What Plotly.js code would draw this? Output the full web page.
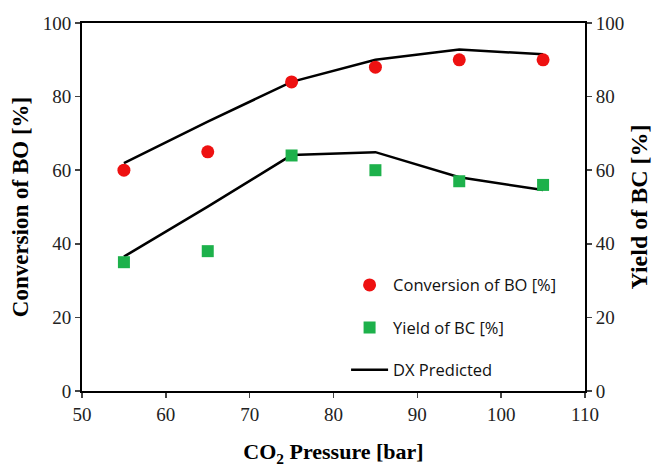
<!DOCTYPE html>
<html>
<head>
<meta charset="utf-8">
<script src="https://cdn.plot.ly/plotly-3.0.1.min.js"></script>
<style>html,body{margin:0;padding:0;background:#fff;}#chart{width:656px;height:467px;}</style>
</head>
<body>
<div id="chart"></div>
<script>
const pressure = [55, 65, 75, 85, 95, 105];
const conversionBO = [60, 65, 84, 88, 90, 90];
const yieldBC = [35, 38, 64, 60, 57, 56];
const predictedConversion = [61.9, 73.2, 84, 90, 92.8, 91.5];
const predictedYield = [36.5, 50.1, 64.1, 64.9, 58.1, 54.6];
const xTicks = [50, 60, 70, 80, 90, 100, 110];
const yTicks = [0, 20, 40, 60, 80, 100];

const serif = "Liberation Serif";
const sans = "Open Sans";

const traces = [
  {x: pressure, y: predictedConversion, mode: 'lines', name: 'DX Predicted',
   line: {color: '#000', width: 2.5}, showlegend: false, legendgroup: 'c', hoverinfo: 'skip'},
  {x: pressure, y: predictedYield, mode: 'lines', name: 'DX Predicted',
   line: {color: '#000', width: 2.5}, showlegend: true, legendgroup: 'c', legendrank: 3, yaxis: 'y2'},
  {x: pressure, y: conversionBO, mode: 'markers', name: 'Conversion of BO [%]',
   marker: {symbol: 'circle', size: 13, color: '#ee1111'}, legendgroup: 'a', legendrank: 1},
  {x: pressure, y: yieldBC, mode: 'markers', name: 'Yield of BC [%]',
   marker: {symbol: 'square', size: 12, color: '#1db14b'}, legendgroup: 'b', legendrank: 2, yaxis: 'y2'}
];

const layout = {
  width: 656, height: 467,
  margin: {l: 82, r: 71, t: 23, b: 76},
  paper_bgcolor: '#fff', plot_bgcolor: '#fff',
  font: {family: serif, color: '#222'},
  showlegend: true,
  legend: {x: 0.525, y: 0.335, xanchor: 'left', yanchor: 'top', bgcolor: 'rgba(0,0,0,0)',
           itemwidth: 37,
           font: {family: sans, size: 16.5, color: '#111'}, tracegroupgap: 18},
  xaxis: {range: [50, 110], tickvals: xTicks, ticks: 'outside', ticklen: 5, tickwidth: 1.5,
          showline: true, linecolor: '#000', linewidth: 2, mirror: true, showgrid: false, zeroline: false,
          tickfont: {family: serif, size: 19, color: '#222'},
          title: {text: 'CO<sub>2</sub> Pressure [bar]', font: {family: serif, size: 22, color: '#000', weight: 'bold'}, standoff: 20}},
  yaxis: {range: [0, 100], tickvals: yTicks, ticks: 'outside', ticklen: 5, tickwidth: 1.5,
          showline: true, linecolor: '#000', linewidth: 2, showgrid: false, zeroline: false,
          tickfont: {family: serif, size: 19, color: '#222'},
          title: {text: 'Conversion of BO [%]', font: {family: serif, size: 23, color: '#000', weight: 'bold'}, standoff: 8}},
  yaxis2: {range: [0, 100], tickvals: yTicks, overlaying: 'y', side: 'right', ticks: 'outside', ticklen: 5, tickwidth: 1.5,
          showline: true, linecolor: '#000', linewidth: 2, showgrid: false, zeroline: false,
          tickfont: {family: serif, size: 19, color: '#222'},
          title: {text: 'Yield of BC [%]', font: {family: serif, size: 24, color: '#000', weight: 'bold'}, standoff: 7}}
};

Plotly.newPlot('chart', traces, layout, {displayModeBar: false, staticPlot: true});
</script>
</body>
</html>
